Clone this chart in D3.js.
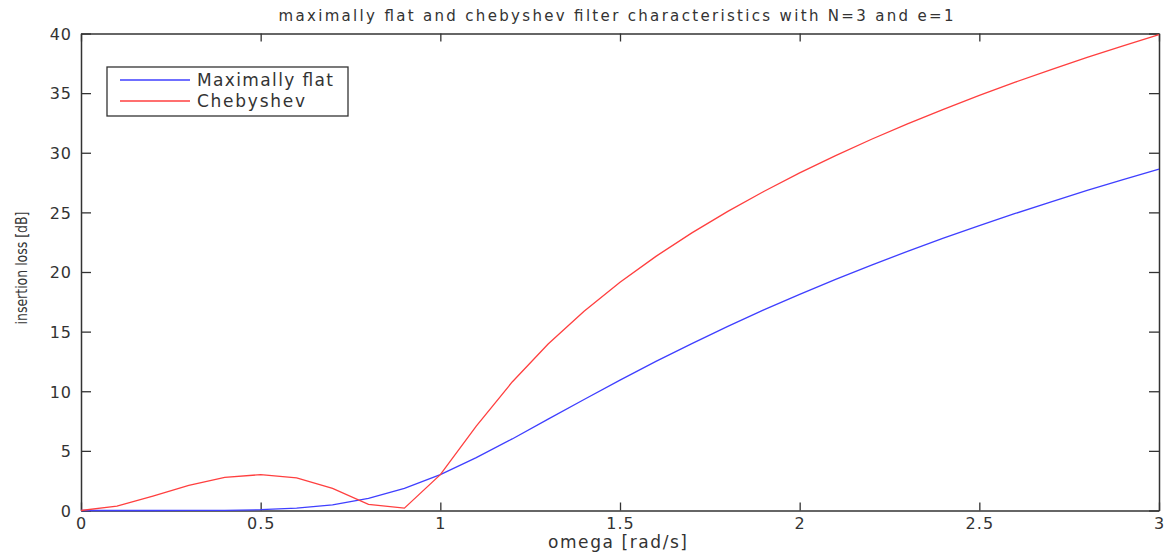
<!DOCTYPE html>
<html>
<head>
<meta charset="utf-8">
<script src="https://cdn.jsdelivr.net/npm/d3@7"></script>
<style>
  body { margin: 0; background: #fff; }
  text { font-family: "DejaVu Sans", "Liberation Sans", sans-serif; fill: #333; }
</style>
</head>
<body>
<svg id="chart" width="1165" height="555"></svg>
<script>
// omega samples (rad/s)
var omega = [0, 0.1, 0.2, 0.3, 0.4, 0.5, 0.6, 0.7, 0.8, 0.9, 1.0,
    1.1, 1.2, 1.3, 1.4, 1.5, 1.6, 1.7, 1.8, 1.9, 2.0,
    2.1, 2.2, 2.3, 2.4, 2.5, 2.6, 2.7, 2.8, 2.9, 3.0];
// insertion loss [dB]
var maxFlat = [0, 0, 0, 0.003, 0.018, 0.067, 0.2, 0.48, 1.01, 1.85, 3.01,
    4.43, 6.0, 7.66, 9.31, 10.93, 12.5, 14.0, 15.44, 16.82, 18.13,
    19.38, 20.58, 21.73, 22.84, 23.89, 24.91, 25.89, 26.84, 27.75, 28.63];
var chebyshev = [0, 0.37, 1.21, 2.11, 2.77, 3.01, 2.73, 1.85, 0.51, 0.2, 3.01,
    7.07, 10.78, 13.96, 16.71, 19.14, 21.31, 23.28, 25.08, 26.75, 28.31,
    29.76, 31.13, 32.42, 33.64, 34.81, 35.92, 36.98, 38.0, 38.97, 39.91];
var xTicks = [0, 0.5, 1, 1.5, 2, 2.5, 3];
var yTicks = [0, 5, 10, 15, 20, 25, 30, 35, 40];
var seriesNames = ["Maximally flat", "Chebyshev"];
var seriesColors = ["#3f3fff", "#ff3f3f"];

function drawChart() {
    // "top" is taken by window.top, so use plot* names
    var plotL = 81, plotR = 1159, plotT = 33.5, plotB = 510.5;
    var svg = d3.select("#chart");

    var x = d3.scaleLinear().domain([0, 3]).range([plotL, plotR]);
    var y = d3.scaleLinear().domain([0, 40]).range([plotB, plotT]);

    // axes with inward ticks, mirrored on top/right like matlab
    svg.append("g").attr("class", "xaxis").attr("transform", "translate(0," + plotB + ")")
        .call(d3.axisBottom(x).tickValues(xTicks).tickSizeInner(-8).tickSizeOuter(0).tickPadding(7)
            .tickFormat(function (d) { return d; }));
    svg.append("g").attr("transform", "translate(0," + plotT + ")")
        .call(d3.axisTop(x).tickValues(xTicks).tickSizeInner(-8).tickSizeOuter(0).tickFormat(""));
    svg.append("g").attr("class", "yaxis").attr("transform", "translate(" + plotL + ",0)")
        .call(d3.axisLeft(y).tickValues(yTicks).tickSizeInner(-10).tickSizeOuter(0).tickPadding(9)
            .tickFormat(function (d) { return d; }));
    svg.append("g").attr("transform", "translate(" + plotR + ",0)")
        .call(d3.axisRight(y).tickValues(yTicks).tickSizeInner(-10).tickSizeOuter(0).tickFormat(""));

    svg.selectAll(".domain").attr("stroke", "#333").attr("stroke-width", 1.5);
    svg.selectAll(".tick line").attr("stroke", "#333").attr("stroke-width", 1.3);
    svg.selectAll(".tick text").attr("fill", "#333")
        .style("font-family", "'DejaVu Sans', sans-serif")
        .style("font-size", "16px").style("letter-spacing", "1px");
    svg.selectAll(".xaxis .tick text").attr("dy", "0.72em");
    svg.selectAll(".yaxis .tick text").attr("dy", "0.36em");

    // lines
    var line = d3.line()
        .x(function (d, i) { return x(omega[i]); })
        .y(function (d) { return y(d); });

    [maxFlat, chebyshev].forEach(function (s, k) {
        svg.append("path").datum(s)
            .attr("d", line)
            .attr("fill", "none")
            .attr("stroke", seriesColors[k])
            .attr("stroke-width", 1.3);
    });

    // title and labels
    svg.append("text").attr("x", (plotL + plotR) / 2 - 4).attr("y", 21)
        .attr("text-anchor", "middle").style("font-size", "15px")
        .attr("textLength", 675).attr("lengthAdjust", "spacing")
        .text("maximally flat and chebyshev filter characteristics with N=3 and e=1");
    svg.append("text").attr("x", 617.5).attr("y", 548)
        .attr("text-anchor", "middle").style("font-size", "17px")
        .attr("textLength", 139).attr("lengthAdjust", "spacing")
        .text("omega [rad/s]");
    svg.append("text")
        .attr("transform", "translate(27,268) rotate(-90)")
        .attr("text-anchor", "middle")
        .style("font-size", "16px")
        .attr("textLength", 113).attr("lengthAdjust", "spacingAndGlyphs")
        .text("insertion loss [dB]");

    // legend
    var lg = svg.append("g");
    lg.append("rect").attr("x", 107).attr("y", 67).attr("width", 241).attr("height", 49)
        .attr("fill", "#fff").attr("stroke", "#333").attr("stroke-width", 1.3);
    var legendW = [136, 108];
    seriesNames.forEach(function (name, k) {
        var ly = 80 + k * 21;
        lg.append("line").attr("x1", 120).attr("x2", 190).attr("y1", ly).attr("y2", ly)
            .attr("stroke", seriesColors[k]).attr("stroke-width", 1.3);
        lg.append("text").attr("x", 197).attr("y", ly + 6).style("font-size", "17px")
            .attr("textLength", legendW[k]).attr("lengthAdjust", "spacing")
            .text(name);
    });
}

drawChart();
</script>
</body>
</html>
